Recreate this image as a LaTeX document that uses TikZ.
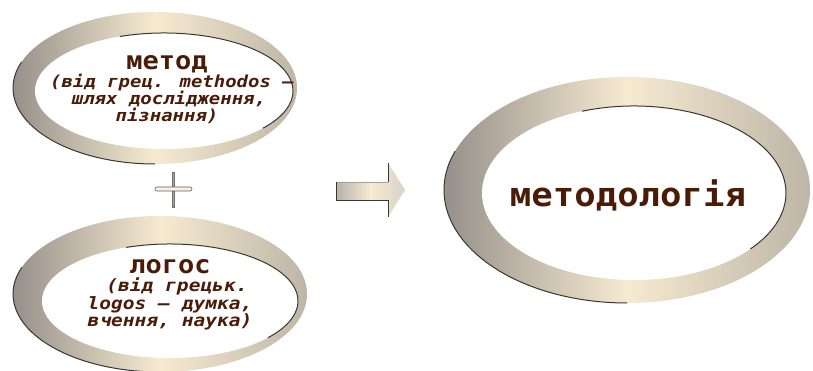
\documentclass[tikz,border=0pt]{standalone}
\usepackage{fontspec}
\usetikzlibrary{shapes.geometric}
\newfontfamily\monof{DejaVu Sans Mono}
\newfontfamily\monow{DejaVu Sans Mono}[FakeStretch=1.15]
\newfontfamily\monot{DejaVu Sans Mono}[FakeStretch=1.08]
\definecolor{txt}{HTML}{4A1C08}
\definecolor{ringL}{HTML}{96908A}
\definecolor{ringM}{HTML}{F6EAD0}
\definecolor{ringR}{HTML}{BDB5A6}
\definecolor{edgec}{HTML}{3A3630}
\begin{document}
\begin{tikzpicture}[x=1pt,y=-1pt,
 ring/.style={ellipse, draw=none, inner sep=0pt, outer sep=0pt, left color=ringL, right color=ringR, middle color=ringM},
 hole/.style={ellipse, fill=white, inner sep=0pt, outer sep=0pt},
 rim/.style={draw=edgec, line width=1pt},
 title/.style={anchor=base, text=txt, inner sep=0pt, font=\monot\bfseries\fontsize{25}{25}\selectfont},
 bigtitle/.style={anchor=base, text=txt, inner sep=0pt, font=\monot\bfseries\fontsize{33}{33}\selectfont},
 sub/.style={anchor=base, text=txt, inner sep=0pt, font=\monow\bfseries\itshape\fontsize{16.5}{16.5}\selectfont},
 subb/.style={anchor=base, text=txt, inner sep=0pt, font=\monow\bfseries\itshape\fontsize{17}{17}\selectfont},
]
\useasboundingbox (0,0) rectangle (813,371);
\fill[white] (0,0) rectangle (813,371);

% top ellipse (метод)
\node[ring, minimum width=284pt, minimum height=152pt] (m1o) at (155,88) {};
\node[hole, minimum width=258pt, minimum height=116pt] (m1i) at (164,91) {};
\draw[rim] (m1o.center) ++(200:142 and 76) arc[start angle=200, end angle=90, x radius=142, y radius=76];
\draw[rim] (m1i.center) ++(250:129 and 58) arc[start angle=250, end angle=400, x radius=129, y radius=58];
\node[title] (t1) at (167,70) {метод};
\node[sub] (t1a) at (172,87.5) {(від грец. methodos —};
\node[sub] (t1b) at (169,105) {шлях дослідження,};
\node[sub] (t1c) at (167,122) {пізнання)};

% plus sign
\fill[ringL!80!ringM, draw=edgec!70, line width=0.5pt] (171.8,172) rectangle (174.2,207);
\draw[edgec!80, line width=0.6pt, fill=ringM!60!white, rounded corners=2pt] (155,187) rectangle (192,191);

% bottom ellipse (логос)
\node[ring, minimum width=294pt, minimum height=156pt] (m2o) at (160,294) {};
\node[hole, minimum width=256pt, minimum height=114pt] (m2i) at (170,301) {};
\draw[rim] (m2o.center) ++(200:147 and 78) arc[start angle=200, end angle=90, x radius=147, y radius=78];
\draw[rim] (m2i.center) ++(250:128 and 57) arc[start angle=250, end angle=400, x radius=128, y radius=57];
\node[title] (t2) at (170,273) {логос};
\node[subb] (t2a) at (177,291) {(від грецьк.};
\node[subb] (t2b) at (170,309) {logos — думка,};
\node[subb] (t2c) at (170,326) {вчення, наука)};

% block arrow
\path[left color=ringL!70!white, right color=ringR!60!white, middle color=ringM]
  (336,182) -- (388,182) -- (388,163) -- (405,190) -- (388,217) -- (388,200) -- (336,200) -- cycle;
\draw[edgec!45, line width=0.6pt] (336,182) -- (388,182);
\draw[edgec, line width=0.9pt] (388,182) -- (388,163);
\draw[edgec, line width=0.9pt] (336,182) -- (336,200) -- (388,200) -- (388,217);

% big ellipse (методологія)
\node[ring, minimum width=366pt, minimum height=226pt] (m3o) at (627,190) {};
\node[hole, minimum width=304pt, minimum height=174pt] (m3i) at (634,193) {};
\draw[rim] (m3o.center) ++(200:183 and 113) arc[start angle=200, end angle=90, x radius=183, y radius=113];
\draw[rim] (m3i.center) ++(250:152 and 87) arc[start angle=250, end angle=400, x radius=152, y radius=87];
\node[bigtitle] (t3) at (628,207) {методологія};
\end{tikzpicture}
\end{document}
